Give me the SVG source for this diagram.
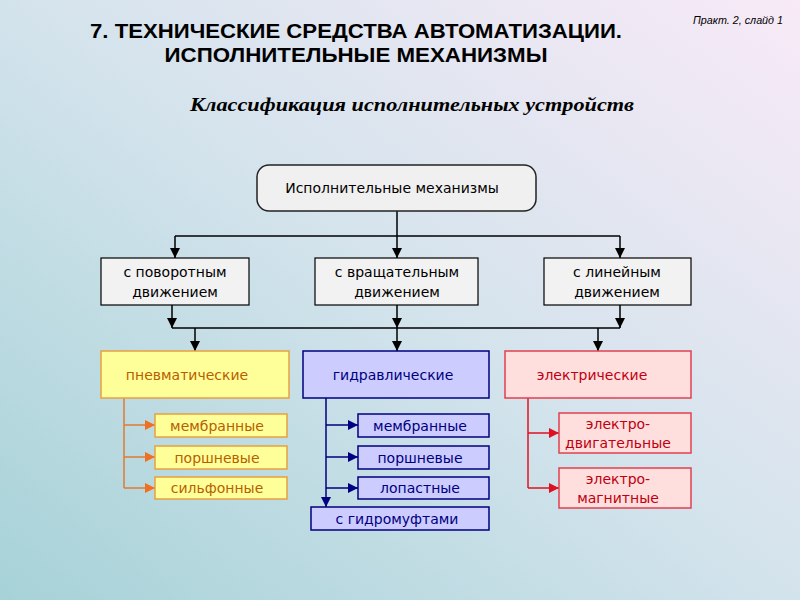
<svg xmlns="http://www.w3.org/2000/svg" width="800" height="600" viewBox="0 0 800 600">
<defs>
<linearGradient id="bg" x1="0" y1="1" x2="1" y2="0">
<stop offset="0" stop-color="#a6d2d7"/>
<stop offset="0.5" stop-color="#d3e3ec"/>
<stop offset="1" stop-color="#f8eaf7"/>
</linearGradient>
<marker id="ab" viewBox="0 0 10 10" refX="10" refY="5" markerWidth="10" markerHeight="10" markerUnits="userSpaceOnUse" orient="auto"><path d="M0,0 L10,5 L0,10 z" fill="#000"/></marker>
<marker id="ao" viewBox="0 0 10 10" refX="10" refY="5" markerWidth="10" markerHeight="10" markerUnits="userSpaceOnUse" orient="auto"><path d="M0,0 L10,5 L0,10 z" fill="#f07020"/></marker>
<marker id="an" viewBox="0 0 10 10" refX="10" refY="5" markerWidth="10" markerHeight="10" markerUnits="userSpaceOnUse" orient="auto"><path d="M0,0 L10,5 L0,10 z" fill="#000080"/></marker>
<marker id="ar" viewBox="0 0 10 10" refX="10" refY="5" markerWidth="10" markerHeight="10" markerUnits="userSpaceOnUse" orient="auto"><path d="M0,0 L10,5 L0,10 z" fill="#e01020"/></marker>
</defs>
<style>
.t{font-family:"DejaVu Sans","Liberation Sans",sans-serif;font-size:14px;text-anchor:middle}
.gray{fill:#f2f2f2;stroke:#000;stroke-width:1.2}
.yel{fill:#ffff99;stroke:#e8a040;stroke-width:1.5}
.blu{fill:#ccccff;stroke:#000080;stroke-width:1.5}
.red{fill:#ffdede;stroke:#e04050;stroke-width:1.5}
.ty{fill:#b86000}
.tb{fill:#000080}
.tr{fill:#c00010}
.cb{stroke:#000;stroke-width:1.5;fill:none}
.co{stroke:#e07a30;stroke-width:1.5;fill:none}
.cn{stroke:#000080;stroke-width:1.5;fill:none}
.cr{stroke:#e01020;stroke-width:1.5;fill:none}
</style>
<rect width="800" height="600" fill="url(#bg)"/>
<text x="356" y="38" font-family="Liberation Sans,Arial,sans-serif" font-size="21" font-weight="bold" text-anchor="middle" textLength="532" lengthAdjust="spacingAndGlyphs">7. ТЕХНИЧЕСКИЕ СРЕДСТВА АВТОМАТИЗАЦИИ.</text>
<text x="356" y="62" font-family="Liberation Sans,Arial,sans-serif" font-size="21" font-weight="bold" text-anchor="middle" textLength="383" lengthAdjust="spacingAndGlyphs">ИСПОЛНИТЕЛЬНЫЕ МЕХАНИЗМЫ</text>
<text x="783" y="24" font-family="Liberation Sans,Arial,sans-serif" font-size="11" font-style="italic" text-anchor="end" textLength="90" lengthAdjust="spacingAndGlyphs">Практ. 2, слайд 1</text>
<text x="412" y="111" font-family="Liberation Serif,Times New Roman,serif" font-size="19" font-weight="bold" font-style="italic" text-anchor="middle" textLength="444" lengthAdjust="spacingAndGlyphs">Классификация исполнительных устройств</text>

<g id="connectors">
<path class="cb" d="M397,211 V236"/>
<path class="cb" d="M175,236 H620"/>
<path class="cb" d="M175,236 V258" marker-end="url(#ab)"/>
<path class="cb" d="M397,236 V258" marker-end="url(#ab)"/>
<path class="cb" d="M620,236 V258" marker-end="url(#ab)"/>
<path class="cb" d="M172,305 V328" marker-end="url(#ab)"/>
<path class="cb" d="M397,305 V328" marker-end="url(#ab)"/>
<path class="cb" d="M620,305 V328" marker-end="url(#ab)"/>
<path class="cb" d="M172,328 H620"/>
<path class="cb" d="M195,328 V351" marker-end="url(#ab)"/>
<path class="cb" d="M397,328 V351" marker-end="url(#ab)"/>
<path class="cb" d="M598,328 V351" marker-end="url(#ab)"/>
<path class="co" d="M124,398 V488"/>
<path class="co" d="M124,425 H155" marker-end="url(#ao)"/>
<path class="co" d="M124,457 H155" marker-end="url(#ao)"/>
<path class="co" d="M124,488 H155" marker-end="url(#ao)"/>
<path class="cn" d="M326,398 V507" marker-end="url(#an)"/>
<path class="cn" d="M326,425 H358" marker-end="url(#an)"/>
<path class="cn" d="M326,457 H358" marker-end="url(#an)"/>
<path class="cn" d="M326,488 H358" marker-end="url(#an)"/>
<path class="cr" d="M528,398 V488"/>
<path class="cr" d="M528,433 H559" marker-end="url(#ar)"/>
<path class="cr" d="M528,488 H559" marker-end="url(#ar)"/>
</g>

<g id="root"><rect x="257" y="165" width="279" height="46" rx="12" fill="#f0f0f0" stroke="#222" stroke-width="1.5"/><text class="t" x="392" y="193">Исполнительные  механизмы</text></g>

<g id="rot"><rect class="gray" x="101" y="258" width="148" height="47"/><text class="t" x="175" y="277">с поворотным</text><text class="t" x="175" y="297">движением</text></g>
<g id="vr"><rect class="gray" x="315" y="258" width="163" height="47"/><text class="t" x="397" y="277">с вращательным</text><text class="t" x="397" y="297">движением</text></g>
<g id="lin"><rect class="gray" x="544" y="258" width="147" height="47"/><text class="t" x="617" y="277">с линейным</text><text class="t" x="617" y="297">движением</text></g>

<g id="pnev"><rect class="yel" x="101" y="351" width="188" height="47"/><text class="t ty" x="187" y="380">пневматические</text></g>
<g id="gidr"><rect class="blu" x="303" y="351" width="186" height="47"/><text class="t tb" x="393" y="380">гидравлические</text></g>
<g id="el"><rect class="red" x="505" y="351" width="186" height="47"/><text class="t tr" x="592" y="380">электрические</text></g>

<g id="p1"><rect class="yel" x="155" y="414" width="132" height="23"/><text class="t ty" x="217" y="431">мембранные</text></g>
<g id="p2"><rect class="yel" x="155" y="446" width="132" height="23"/><text class="t ty" x="217" y="463">поршневые</text></g>
<g id="p3"><rect class="yel" x="155" y="477" width="132" height="22"/><text class="t ty" x="217" y="493">сильфонные</text></g>

<g id="g1"><rect class="blu" x="358" y="414" width="131" height="23"/><text class="t tb" x="420" y="431">мембранные</text></g>
<g id="g2"><rect class="blu" x="358" y="446" width="131" height="23"/><text class="t tb" x="420" y="463">поршневые</text></g>
<g id="g3"><rect class="blu" x="358" y="477" width="131" height="22"/><text class="t tb" x="420" y="493">лопастные</text></g>
<g id="g4"><rect class="blu" x="311" y="507" width="178" height="23"/><text class="t tb" x="397" y="524">с гидромуфтами</text></g>

<g id="e1"><rect class="red" x="559" y="413" width="132" height="40"/><text class="t tr" x="618" y="429">электро-</text><text class="t tr" x="618" y="448">двигательные</text></g>
<g id="e2"><rect class="red" x="559" y="468" width="132" height="40"/><text class="t tr" x="618" y="484">электро-</text><text class="t tr" x="618" y="503">магнитные</text></g>
</svg>
